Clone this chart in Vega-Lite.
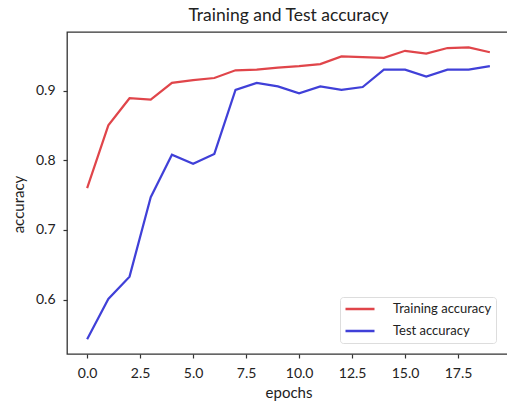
{
  "$schema": "https://vega.github.io/schema/vega-lite/v6.json",
  "width": 443,
  "height": 322,
  "autosize": {"type": "none"},
  "padding": {"left": 67, "top": 32, "right": 0, "bottom": 50},
  "background": "white",
  "title": {"text": "Training and Test accuracy", "fontSize": 17.5, "font": "Lato", "fontWeight": "normal", "color": "#222", "offset": 8, "anchor": "middle"},
  "config": {
    "view": {"stroke": "#333", "strokeWidth": 1.3},
    "axis": {"grid": false, "domain": false, "labelFont": "Lato", "labelFontSize": 14, "labelColor": "#222", "titleFont": "Lato", "titleFontSize": 15, "titleFontWeight": "normal", "titleColor": "#222", "tickColor": "#333", "tickSize": 4, "tickWidth": 1.2}
  },
  "data": {"values": [
    {"epoch": 0, "accuracy": 0.760, "series": "Training accuracy"},
    {"epoch": 1, "accuracy": 0.850, "series": "Training accuracy"},
    {"epoch": 2, "accuracy": 0.889, "series": "Training accuracy"},
    {"epoch": 3, "accuracy": 0.887, "series": "Training accuracy"},
    {"epoch": 4, "accuracy": 0.911, "series": "Training accuracy"},
    {"epoch": 5, "accuracy": 0.915, "series": "Training accuracy"},
    {"epoch": 6, "accuracy": 0.918, "series": "Training accuracy"},
    {"epoch": 7, "accuracy": 0.929, "series": "Training accuracy"},
    {"epoch": 8, "accuracy": 0.930, "series": "Training accuracy"},
    {"epoch": 9, "accuracy": 0.933, "series": "Training accuracy"},
    {"epoch": 10, "accuracy": 0.935, "series": "Training accuracy"},
    {"epoch": 11, "accuracy": 0.938, "series": "Training accuracy"},
    {"epoch": 12, "accuracy": 0.949, "series": "Training accuracy"},
    {"epoch": 13, "accuracy": 0.948, "series": "Training accuracy"},
    {"epoch": 14, "accuracy": 0.947, "series": "Training accuracy"},
    {"epoch": 15, "accuracy": 0.957, "series": "Training accuracy"},
    {"epoch": 16, "accuracy": 0.953, "series": "Training accuracy"},
    {"epoch": 17, "accuracy": 0.961, "series": "Training accuracy"},
    {"epoch": 18, "accuracy": 0.962, "series": "Training accuracy"},
    {"epoch": 19, "accuracy": 0.955, "series": "Training accuracy"},
    {"epoch": 0, "accuracy": 0.543, "series": "Test accuracy"},
    {"epoch": 1, "accuracy": 0.601, "series": "Test accuracy"},
    {"epoch": 2, "accuracy": 0.633, "series": "Test accuracy"},
    {"epoch": 3, "accuracy": 0.747, "series": "Test accuracy"},
    {"epoch": 4, "accuracy": 0.808, "series": "Test accuracy"},
    {"epoch": 5, "accuracy": 0.795, "series": "Test accuracy"},
    {"epoch": 6, "accuracy": 0.809, "series": "Test accuracy"},
    {"epoch": 7, "accuracy": 0.901, "series": "Test accuracy"},
    {"epoch": 8, "accuracy": 0.911, "series": "Test accuracy"},
    {"epoch": 9, "accuracy": 0.906, "series": "Test accuracy"},
    {"epoch": 10, "accuracy": 0.896, "series": "Test accuracy"},
    {"epoch": 11, "accuracy": 0.906, "series": "Test accuracy"},
    {"epoch": 12, "accuracy": 0.901, "series": "Test accuracy"},
    {"epoch": 13, "accuracy": 0.905, "series": "Test accuracy"},
    {"epoch": 14, "accuracy": 0.930, "series": "Test accuracy"},
    {"epoch": 15, "accuracy": 0.930, "series": "Test accuracy"},
    {"epoch": 16, "accuracy": 0.920, "series": "Test accuracy"},
    {"epoch": 17, "accuracy": 0.930, "series": "Test accuracy"},
    {"epoch": 18, "accuracy": 0.930, "series": "Test accuracy"},
    {"epoch": 19, "accuracy": 0.935, "series": "Test accuracy"}
  ]},
  "mark": {"type": "line", "strokeWidth": 2.2, "clip": true},
  "encoding": {
    "x": {"field": "epoch", "type": "quantitative", "title": "epochs",
      "scale": {"domain": [-0.95, 19.95], "nice": false, "zero": false},
      "axis": {"values": [0, 2.5, 5, 7.5, 10, 12.5, 15, 17.5], "format": ".1f", "labelPadding": 8, "titlePadding": 5}},
    "y": {"field": "accuracy", "type": "quantitative", "title": "accuracy",
      "scale": {"domain": [0.522, 0.984], "nice": false, "zero": false},
      "axis": {"values": [0.6, 0.7, 0.8, 0.9], "format": ".1f", "labelPadding": 8, "titlePadding": 9, "titleY": 172}},
    "color": {"field": "series", "type": "nominal", "sort": ["Training accuracy", "Test accuracy"],
      "scale": {"domain": ["Training accuracy", "Test accuracy"], "range": ["#e0454a", "#4040d8"]},
      "legend": {"title": null, "orient": "none", "legendX": 273, "legendY": 265, "fillColor": "white", "strokeColor": "#dddddd", "cornerRadius": 3, "padding": 4, "symbolType": "stroke", "symbolSize": 841, "symbolStrokeWidth": 2.5, "clipHeight": 16, "rowPadding": 6, "labelOffset": 17, "labelFont": "Lato", "labelFontSize": 13, "labelColor": "#222"}}
  }
}
